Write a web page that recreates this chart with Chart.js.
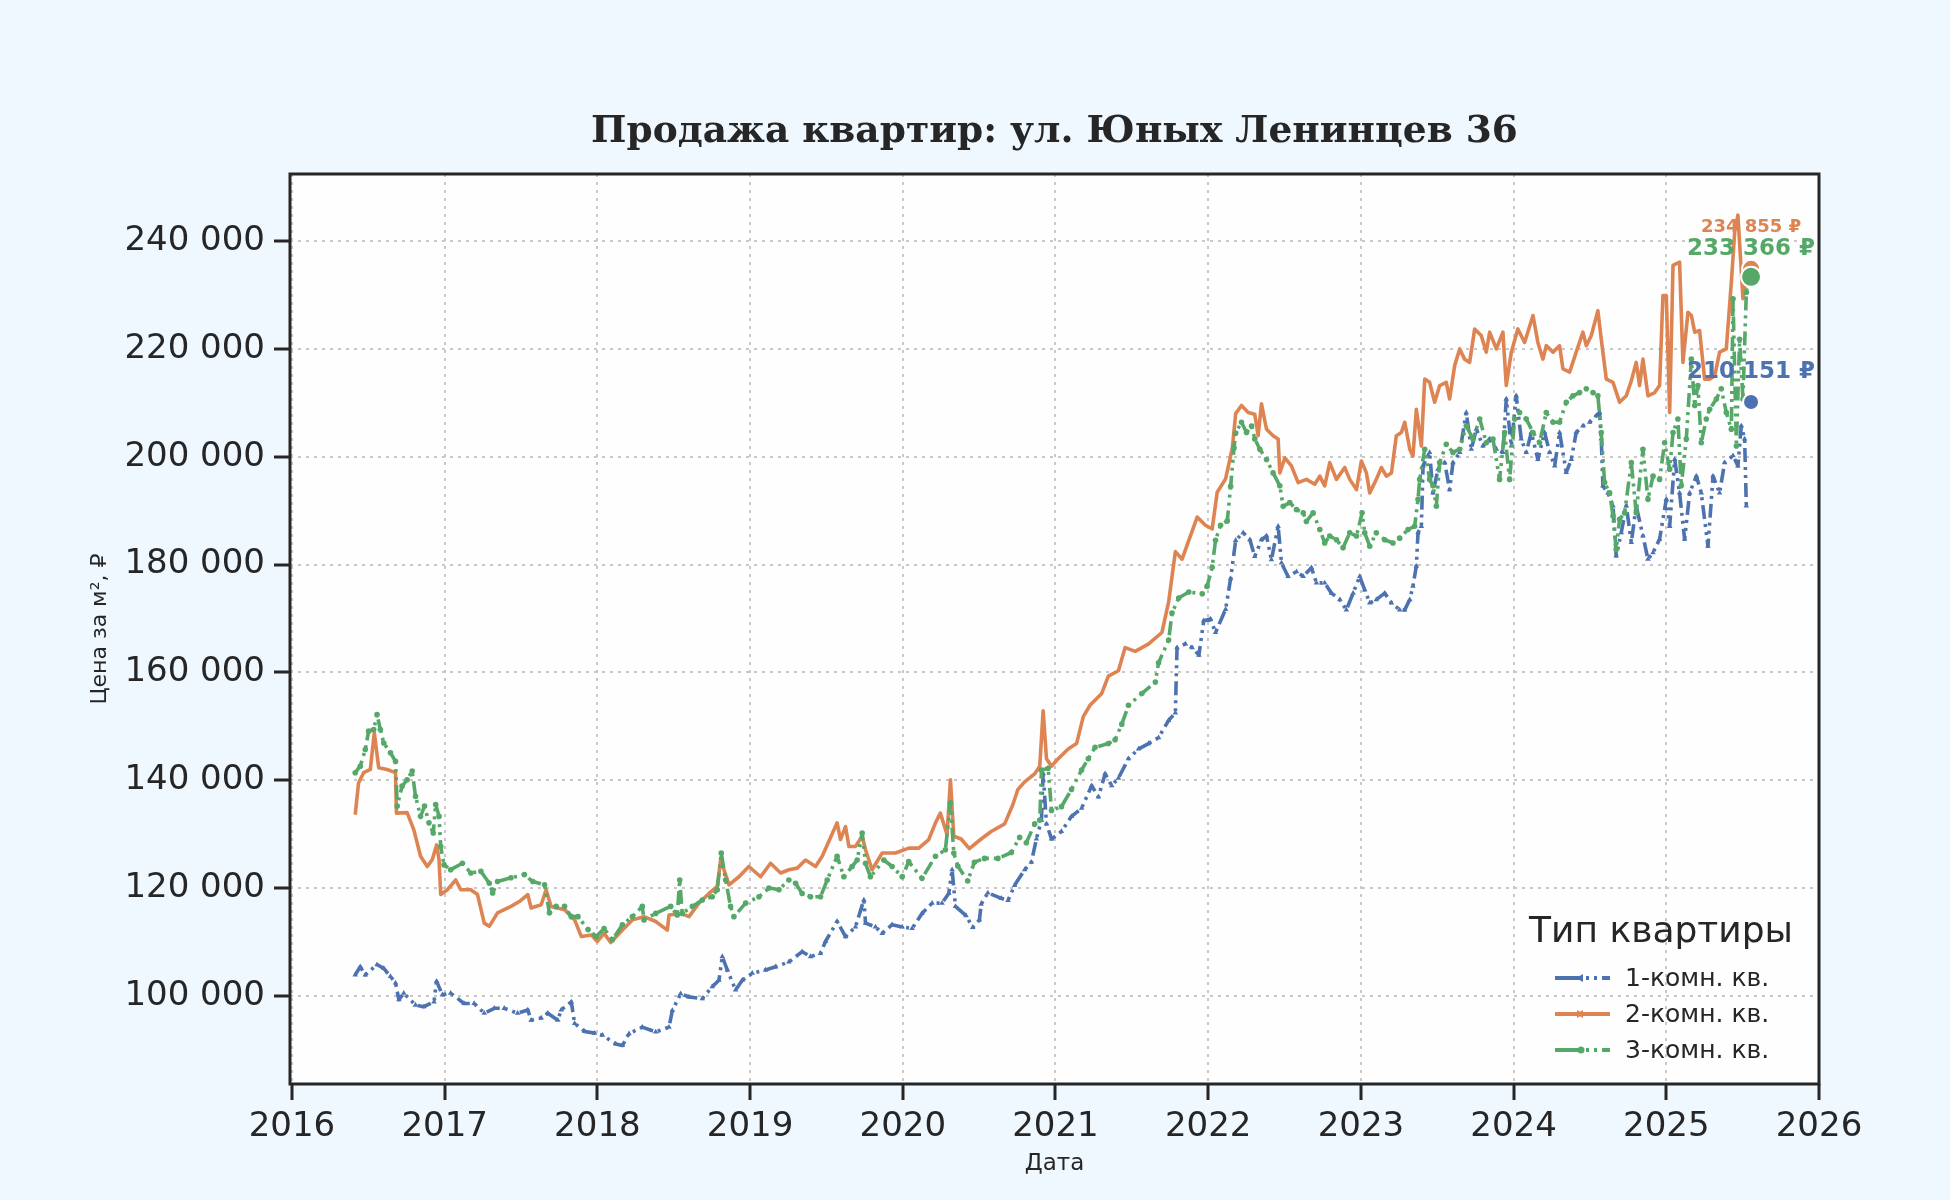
<!DOCTYPE html>
<html lang="ru">
<head>
<meta charset="utf-8">
<title>Продажа квартир: ул. Юных Ленинцев 36</title>
<script src="https://cdn.jsdelivr.net/npm/chart.js@4/dist/chart.umd.min.js"></script>
<style>
  html, body { margin: 0; padding: 0; background: #f0f8ff; }
  #wrap { width: 1950px; height: 1200px; position: relative; }
</style>
</head>
<body>
<div id="wrap"><canvas id="myChart"></canvas></div>
<script>
// --- data (dates as decimal years, prices in rubles per m2) ---
const seriesNames = ['1-комн. кв.', '2-комн. кв.', '3-комн. кв.'];
const colors = ['#4c72b0', '#dd8452', '#55a868'];

const oneRoomDates = [
  2016.414,2016.447,2016.480,2016.557,2016.601,2016.645,2016.678,2016.700,2016.732,2016.809,
  2016.864,2016.930,2016.947,2016.985,2017.039,2017.127,2017.193,2017.259,2017.325,2017.390,
  2017.478,2017.544,2017.566,2017.632,2017.675,2017.741,2017.763,2017.829,2017.851,2017.917,
  2017.982,2018.033,2018.120,2018.164,2018.207,2018.294,2018.382,2018.469,2018.491,2018.545,
  2018.600,2018.687,2018.752,2018.796,2018.818,2018.851,2018.905,2018.949,2019.014,2019.101,
  2019.167,2019.254,2019.341,2019.396,2019.461,2019.494,2019.570,2019.625,2019.690,2019.745,
  2019.756,2019.821,2019.865,2019.930,2019.996,2020.061,2020.126,2020.192,2020.257,2020.301,
  2020.323,2020.345,2020.414,2020.458,2020.502,2020.513,2020.557,2020.645,2020.689,2020.732,
  2020.798,2020.842,2020.875,2020.908,2020.919,2020.941,2020.974,2021.039,2021.105,2021.171,
  2021.237,2021.281,2021.325,2021.368,2021.412,2021.478,2021.544,2021.610,2021.675,2021.741,
  2021.785,2021.796,2021.851,2021.895,2021.939,2021.971,2022.015,2022.048,2022.114,2022.147,
  2022.180,2022.229,2022.273,2022.305,2022.349,2022.382,2022.414,2022.458,2022.480,2022.523,
  2022.578,2022.622,2022.676,2022.709,2022.763,2022.807,2022.862,2022.905,2022.949,2022.992,
  2023.025,2023.058,2023.101,2023.156,2023.200,2023.254,2023.287,2023.320,2023.341,2023.363,
  2023.374,2023.396,2023.407,2023.450,2023.472,2023.505,2023.549,2023.581,2023.603,2023.647,
  2023.690,2023.723,2023.756,2023.799,2023.843,2023.887,2023.930,2023.952,2023.985,2024.017,
  2024.050,2024.083,2024.116,2024.159,2024.203,2024.236,2024.269,2024.301,2024.345,2024.378,
  2024.410,2024.454,2024.498,2024.541,2024.563,2024.574,2024.585,2024.618,2024.651,2024.672,
  2024.705,2024.738,2024.771,2024.803,2024.847,2024.880,2024.913,2024.956,2025.000,2025.022,
  2025.055,2025.087,2025.120,2025.153,2025.197,2025.229,2025.273,2025.306,2025.349,2025.382,
  2025.437,2025.469,2025.491,2025.513,2025.524
];
const oneRoomPrices = [
  103900,105400,103900,105800,105100,103600,102400,99300,100500,98300,
  98000,98900,102700,100200,100500,98600,98600,96800,97700,97700,
  96800,97400,95500,95900,96800,95500,97400,98900,94900,93400,
  93100,92700,91100,90800,93000,94200,93300,94200,97300,100400,
  99800,99500,101700,102900,107300,104800,101100,102900,104200,104800,
  105400,106300,108200,107300,107900,110100,113800,111000,112800,117800,
  113500,112800,111600,113200,112800,112500,115300,117200,117200,119000,
  123400,116600,114900,112700,114100,117000,119100,118100,117700,120500,
  123400,124800,129100,132600,141200,131900,129100,130500,133300,134800,
  139000,136900,141200,139000,140400,144000,145800,146800,147900,151100,
  152500,164600,165300,164600,163200,169600,169900,167400,171700,177400,
  184500,185900,184600,181500,184600,185300,180900,187100,180300,177800,
  178700,177800,179400,176600,176600,174700,173500,171600,174700,177800,
  175300,172900,173500,174700,172900,171600,171600,173500,176000,179700,
  185900,187100,198300,200800,193300,197700,198900,193900,198900,200800,
  208200,201400,205100,202000,203300,201400,200800,210700,202000,211300,
  203300,200800,204500,199500,204500,200800,198300,204500,197100,199500,
  204500,205700,206400,207600,208200,203300,194600,193300,190900,181600,
  185900,190900,184100,190900,185300,181000,182200,184700,192100,187100,
  199500,193300,184700,193300,196400,193300,183400,196400,193300,198900,
  200200,198300,205700,203300,190900
];

const twoRoomDates = [
  2016.414,2016.436,2016.469,2016.513,2016.539,2016.568,2016.623,2016.678,2016.684,2016.754,
  2016.798,2016.842,2016.886,2016.919,2016.947,2016.963,2016.974,2017.018,2017.072,2017.105,
  2017.171,2017.215,2017.259,2017.292,2017.346,2017.434,2017.489,2017.544,2017.566,2017.632,
  2017.664,2017.697,2017.785,2017.851,2017.895,2017.961,2018.000,2018.044,2018.087,2018.164,
  2018.229,2018.305,2018.382,2018.458,2018.469,2018.545,2018.600,2018.665,2018.731,2018.785,
  2018.807,2018.829,2018.862,2018.927,2018.992,2019.069,2019.134,2019.200,2019.254,2019.309,
  2019.363,2019.429,2019.472,2019.516,2019.570,2019.592,2019.625,2019.647,2019.690,2019.734,
  2019.756,2019.799,2019.865,2019.952,2020.039,2020.105,2020.170,2020.214,2020.246,2020.290,
  2020.312,2020.334,2020.382,2020.436,2020.513,2020.579,2020.667,2020.721,2020.754,2020.798,
  2020.864,2020.897,2020.919,2020.941,2020.974,2021.018,2021.083,2021.138,2021.182,2021.226,
  2021.303,2021.346,2021.412,2021.456,2021.522,2021.610,2021.697,2021.741,2021.785,2021.829,
  2021.873,2021.928,2021.982,2022.026,2022.059,2022.114,2022.158,2022.180,2022.218,2022.262,
  2022.305,2022.327,2022.349,2022.382,2022.425,2022.458,2022.469,2022.502,2022.545,2022.589,
  2022.643,2022.698,2022.731,2022.763,2022.796,2022.840,2022.894,2022.927,2022.971,2023.003,
  2023.036,2023.058,2023.101,2023.134,2023.167,2023.200,2023.232,2023.265,2023.287,2023.320,
  2023.341,2023.363,2023.396,2023.418,2023.450,2023.483,2023.516,2023.559,2023.581,2023.614,
  2023.647,2023.679,2023.712,2023.745,2023.788,2023.821,2023.843,2023.887,2023.930,2023.952,
  2023.985,2024.028,2024.072,2024.127,2024.159,2024.192,2024.214,2024.258,2024.301,2024.323,
  2024.367,2024.410,2024.454,2024.476,2024.509,2024.552,2024.574,2024.607,2024.651,2024.694,
  2024.738,2024.771,2024.803,2024.825,2024.847,2024.880,2024.924,2024.956,2024.978,2025.000,
  2025.022,2025.044,2025.087,2025.109,2025.142,2025.164,2025.186,2025.218,2025.251,2025.284,
  2025.317,2025.349,2025.393,2025.426,2025.448,2025.469,2025.502,2025.535
];
const twoRoomPrices = [
  133600,139500,141400,142000,148800,142300,142000,141400,133900,134000,
  130800,125900,124000,125300,128000,125300,118800,119700,121500,119700,
  119700,118800,113500,112900,115400,116600,117500,118800,116300,116900,
  119700,116600,116000,114100,111000,111300,110100,111600,109900,112200,
  114100,114700,113800,112200,115000,115300,114700,117200,119000,120300,
  125200,123400,120600,122100,124000,122100,124600,122800,123400,123700,
  125200,124000,125900,128700,132100,129000,131400,127700,127700,129600,
  127100,123400,126500,126500,127400,127400,129000,132100,133900,129900,
  140100,129600,129100,127300,129100,130500,131900,135500,138300,139700,
  141200,142600,152900,144000,142600,144000,145800,146800,151800,153900,
  156100,159300,160300,164600,163900,165300,167400,173100,182400,181000,
  184500,188800,187300,186600,193400,195900,201600,208000,209500,208200,
  207900,203900,209800,205100,203900,203300,197000,199800,198300,195200,
  195800,194900,196400,194600,198900,195800,198000,195800,193900,199200,
  197000,193300,195800,198000,196400,197000,203900,204500,206400,201400,
  200100,208800,202000,214400,213800,210100,213200,213800,210700,216900,
  220000,218100,217500,223700,222500,219400,223100,220000,223100,213200,
  219400,223700,221200,226200,221200,218100,220600,219400,220600,216300,
  215700,219400,223100,220600,222500,227100,221800,214400,213800,210100,
  211300,214100,217500,213200,218100,211300,211900,213200,229900,229900,
  208200,235500,236100,217500,226800,226200,223100,223400,214400,214400,
  215000,219400,220000,232400,241700,244800,229300,234900
];

const threeRoomDates = [
  2016.414,2016.447,2016.480,2016.502,2016.535,2016.557,2016.579,2016.601,2016.645,2016.678,
  2016.689,2016.721,2016.754,2016.787,2016.809,2016.842,2016.868,2016.897,2016.925,2016.941,
  2016.963,2016.974,2016.996,2017.039,2017.116,2017.171,2017.237,2017.292,2017.314,2017.346,
  2017.434,2017.522,2017.577,2017.654,2017.686,2017.730,2017.785,2017.829,2017.873,2017.939,
  2017.993,2018.044,2018.098,2018.164,2018.229,2018.294,2018.305,2018.382,2018.480,2018.523,
  2018.539,2018.556,2018.622,2018.687,2018.752,2018.785,2018.811,2018.840,2018.872,2018.894,
  2018.971,2019.058,2019.123,2019.189,2019.254,2019.298,2019.341,2019.396,2019.461,2019.505,
  2019.570,2019.614,2019.668,2019.701,2019.734,2019.756,2019.788,2019.876,2019.930,2019.996,
  2020.039,2020.126,2020.214,2020.279,2020.312,2020.334,2020.360,2020.425,2020.469,2020.535,
  2020.623,2020.711,2020.765,2020.809,2020.864,2020.897,2020.908,2020.952,2020.974,2021.039,
  2021.105,2021.171,2021.215,2021.259,2021.346,2021.390,2021.434,2021.478,2021.566,2021.654,
  2021.675,2021.741,2021.763,2021.807,2021.873,2021.961,2021.993,2022.026,2022.048,2022.081,
  2022.125,2022.147,2022.169,2022.180,2022.218,2022.251,2022.284,2022.305,2022.338,2022.382,
  2022.425,2022.469,2022.491,2022.534,2022.578,2022.622,2022.643,2022.687,2022.731,2022.763,
  2022.796,2022.840,2022.883,2022.927,2022.971,2023.008,2023.025,2023.058,2023.101,2023.156,
  2023.210,2023.254,2023.309,2023.352,2023.374,2023.385,2023.418,2023.450,2023.472,2023.494,
  2023.516,2023.559,2023.603,2023.647,2023.690,2023.734,2023.778,2023.821,2023.865,2023.908,
  2023.941,2023.974,2024.007,2024.039,2024.083,2024.127,2024.170,2024.214,2024.258,2024.301,
  2024.345,2024.389,2024.432,2024.476,2024.520,2024.552,2024.574,2024.596,2024.629,2024.651,
  2024.672,2024.694,2024.727,2024.771,2024.803,2024.847,2024.880,2024.913,2024.956,2024.989,
  2025.022,2025.044,2025.076,2025.098,2025.131,2025.164,2025.186,2025.207,2025.229,2025.262,
  2025.284,2025.328,2025.360,2025.393,2025.426,2025.437,2025.459,2025.480,2025.502,2025.524,
  2025.535
];
const threeRoomPrices = [
  141400,142600,145700,149100,149400,152200,149400,146900,145100,143500,
  135200,138900,140100,141700,137000,133300,135200,132100,130200,135500,
  133300,127700,124300,123400,124600,122800,123100,120900,119100,121200,
  121900,122500,121200,120600,115400,116600,116600,114700,114700,112300,
  111000,112500,110400,113200,114700,116600,114100,115300,116600,115000,
  121500,115300,116600,117800,118400,119700,126500,121500,116600,114700,
  117200,118400,120000,119700,121500,120900,119000,118400,118400,121500,
  125900,122100,124000,125200,130200,124600,122100,125200,124000,122100,
  124900,121800,125900,127100,135800,126500,124100,121300,124800,125500,
  125500,126600,129400,128400,131900,132600,141900,142200,134400,135100,
  138300,141900,144000,146100,146800,147500,150400,153900,156100,158200,
  161800,166000,171000,173800,174900,174600,176000,179500,184500,187300,
  188100,194500,201600,204400,206400,204500,205700,203300,201400,199500,
  197000,194600,190800,191500,190200,189600,188000,189600,186500,184000,
  185300,184600,183100,185900,185300,189600,185900,183400,185900,184600,
  184000,184900,186500,187100,192100,195800,201400,195800,194600,190800,
  198900,202300,200800,201400,205700,203300,207000,202600,203300,195800,
  204500,195800,207000,208200,207000,204500,202600,208200,206400,206400,
  210100,211300,211900,212600,211900,211300,204500,195200,193300,189000,
  182800,188400,189600,198900,189600,201400,192100,196400,195800,202600,
  197700,204500,207000,194600,203300,218100,209500,213200,202600,207000,
  208800,210700,212600,208200,205100,229300,202000,221800,210700,230500,
  233000
];

// last reported values, shown as big dots with captions
const lastDate = 2025.555;
const lastValues = [210151, 234855, 233366];

// axes
const xTickYears = [2016, 2017, 2018, 2019, 2020, 2021, 2022, 2023, 2024, 2025, 2026];
const yTickValues = [100000, 120000, 140000, 160000, 180000, 200000, 220000, 240000];

// ------------------------------------------------------------------

Chart.defaults.font.family = 'DejaVu Sans';
Chart.defaults.color = '#262626';

function toPoints(dates, prices) {
  return dates.map((d, i) => ({ x: d, y: prices[i] }));
}

function fmtRub(v) {
  return String(Math.round(v)).replace(/\B(?=(\d{3})+(?!\d))/g, ' ');
}

const lineDashes = [[14, 5, 3, 5, 3, 5], [], [14, 5, 3, 5, 3, 5]];
const markerStyles = ['triangle', false, 'circle'];

const bgPlugin = {
  id: 'bgPlugin',
  beforeDraw(chart) {
    const { ctx, chartArea: a } = chart;
    ctx.save();
    ctx.fillStyle = '#f0f8ff';
    ctx.fillRect(0, 0, chart.width, chart.height);
    ctx.fillStyle = '#fefefe';
    ctx.fillRect(a.left, a.top, a.right - a.left, a.bottom - a.top);
    ctx.restore();
  }
};

const framePlugin = {
  id: 'framePlugin',
  afterDraw(chart) {
    const { ctx, chartArea: a } = chart;
    ctx.save();
    ctx.strokeStyle = '#262626';
    ctx.lineWidth = 3;
    ctx.strokeRect(a.left, a.top, a.right - a.left, a.bottom - a.top);
    ctx.restore();
  }
};

// captions above the last-value dots
const endLabels = {
  id: 'endLabels',
  afterDatasetsDraw(chart) {
    const { ctx } = chart;
    const xs = chart.scales.x, ys = chart.scales.y;
    const lift = [30, 41, 28];
    const sizes = [23, 18, 23];
    ctx.save();
    ctx.textAlign = 'center';
    ctx.textBaseline = 'middle';
    [1, 2, 0].forEach(i => {
      ctx.font = 'bold ' + sizes[i] + 'px "DejaVu Sans"';
      ctx.fillStyle = colors[i];
      ctx.fillText(fmtRub(lastValues[i]) + ' ₽', xs.getPixelForValue(lastDate), ys.getPixelForValue(lastValues[i]) - lift[i]);
    });
    ctx.restore();
  }
};

// legend in the lower right corner of the plot
const cornerLegend = {
  id: 'cornerLegend',
  afterDraw(chart) {
    const { ctx, chartArea: a } = chart;
    ctx.save();
    ctx.fillStyle = '#262626';
    ctx.textBaseline = 'middle';
    ctx.textAlign = 'center';
    ctx.font = '36px "DejaVu Sans"';
    ctx.fillText('Тип квартиры', a.right - 158, a.bottom - 151);
    ctx.font = '25px "DejaVu Sans"';
    ctx.textAlign = 'left';
    const rows = [106, 70, 34];
    seriesNames.forEach((name, i) => {
      const y = a.bottom - rows[i];
      const x0 = a.right - 264, x1 = a.right - 209;
      ctx.strokeStyle = colors[i];
      ctx.lineWidth = 4;
      ctx.setLineDash(i === 1 ? [] : [26, 5, 3, 5, 3, 5]);
      ctx.beginPath();
      ctx.moveTo(x0, y);
      ctx.lineTo(x1, y);
      ctx.stroke();
      ctx.setLineDash([]);
      ctx.fillStyle = colors[i];
      ctx.beginPath();
      if (i === 2) {
        ctx.arc(x0 + 26, y, 3.5, 0, Math.PI * 2);
      } else {
        ctx.moveTo(x0 + 28, y - 4);
        ctx.lineTo(x0 + 21, y);
        ctx.lineTo(x0 + 28, y + 4);
        if (i === 1) { ctx.moveTo(x0 + 22, y - 4); ctx.lineTo(x0 + 29, y); ctx.lineTo(x0 + 22, y + 4); }
      }
      ctx.fill();
      ctx.fillStyle = '#262626';
      ctx.fillText(name, a.right - 194, y + 1);
    });
    ctx.restore();
  }
};

const lineSets = [oneRoomDates, twoRoomDates, threeRoomDates].map((dates, i) => ({
  label: seriesNames[i],
  data: toPoints(dates, [oneRoomPrices, twoRoomPrices, threeRoomPrices][i]),
  borderColor: colors[i],
  backgroundColor: colors[i],
  borderWidth: 3.6,
  borderDash: lineDashes[i],
  borderJoinStyle: 'round',
  pointStyle: markerStyles[i],
  pointRadius: i === 1 ? 0 : (i === 0 ? 3.2 : 2.8),
  pointBorderWidth: 0,
  pointBackgroundColor: colors[i],
  tension: 0,
  fill: false,
  order: 6 - i
}));

const markerSets = lastValues.map((v, i) => ({
  label: seriesNames[i] + ' last',
  data: [{ x: lastDate, y: v }],
  showLine: false,
  pointRadius: [8, 9, 10][i],
  pointBackgroundColor: colors[i],
  pointBorderColor: '#ffffff',
  pointBorderWidth: 2,
  order: 3 - i
}));

const ctx = document.getElementById('myChart');

const myChart = new Chart(ctx, {
  type: 'line',
  data: { datasets: [...lineSets, ...markerSets] },
  plugins: [bgPlugin, endLabels, framePlugin, cornerLegend],
  options: {
    responsive: true,
    maintainAspectRatio: false,
    animation: false,
    devicePixelRatio: 1,
    layout: { padding: { left: 0, right: 131, top: 0, bottom: 0 } },
    plugins: {
      legend: { display: false },
      tooltip: { enabled: false },
      title: {
        display: true,
        fullSize: false,
        text: 'Продажа квартир: ул. Юных Ленинцев 36',
        color: '#262626',
        font: { family: 'DejaVu Serif', size: 37.5, weight: 'bold' },
        padding: { top: 110, bottom: 19 }
      }
    },
    scales: {
      x: {
        type: 'linear',
        min: 2015.987,
        max: 2026,
        afterBuildTicks: s => { s.ticks = xTickYears.map(v => ({ value: v })); },
        ticks: {
          autoSkip: false,
          maxRotation: 0,
          padding: 7,
          color: '#262626',
          font: { size: 34 },
          callback: v => String(v)
        },
        grid: { color: '#c8c8c8', lineWidth: 2, tickColor: '#262626', tickWidth: 3, tickLength: 16 },
        border: { display: false, dash: [3, 5] },
        title: {
          display: true,
          text: 'Дата',
          color: '#262626',
          font: { size: 23 },
          padding: { top: 0, bottom: 22 }
        },
        afterFit: s => { s.height = 116; }
      },
      y: {
        min: 83660,
        max: 252440,
        afterBuildTicks: s => { s.ticks = yTickValues.map(v => ({ value: v })); },
        ticks: {
          padding: 9,
          color: '#262626',
          font: { size: 34 },
          callback: v => fmtRub(v)
        },
        grid: { color: '#c8c8c8', lineWidth: 2, tickColor: '#262626', tickWidth: 3, tickLength: 16 },
        border: { display: false, dash: [3, 5] },
        title: {
          display: true,
          text: 'Цена за м², ₽',
          color: '#262626',
          font: { size: 22 },
          padding: { top: 87, bottom: 0 }
        },
        afterFit: s => { s.width = 290; }
      }
    }
  }
});
</script>
</body>
</html>
